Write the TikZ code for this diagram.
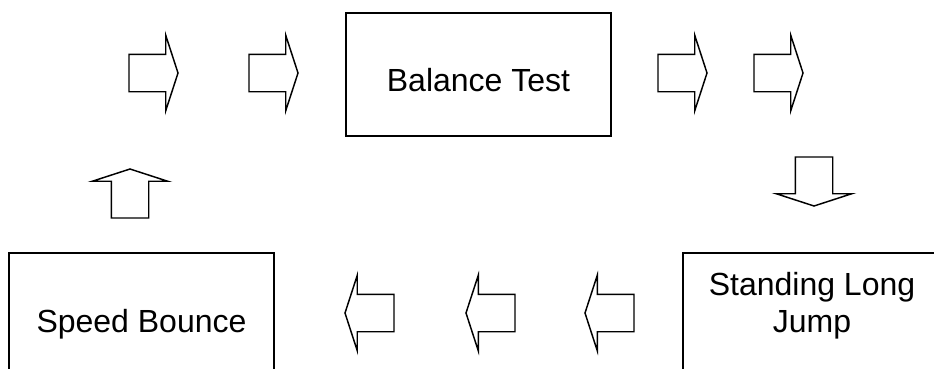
\documentclass[tikz,border=0pt]{standalone}
\usepackage{fontspec}
\setmainfont{Liberation Sans}
\usetikzlibrary{shapes.arrows}

\begin{document}
\begin{tikzpicture}[x=0.75pt, y=-0.75pt,
    stagebox/.style={draw, line width=1.5pt, inner sep=0pt, outer sep=0pt, anchor=north west},
    stagetext/.style={font=\fontsize{24pt}{27.75pt}\selectfont, inner sep=0pt, anchor=base},
    blockarrow/.style={draw, single arrow, line width=1.1pt, inner xsep=0pt, inner ysep=13.5pt, outer sep=0pt,
        minimum height=36.75pt, minimum width=55.5pt, single arrow head extend=14.25pt,
        single arrow tip angle=144, anchor=tip}]
        % Page frame
        \clip (0,0) rectangle (934,368);

        % Test stations
        \node[stagebox, minimum width=198.75pt, minimum height=92.25pt] (balance) at (346,13) {};
        \node[stagebox, minimum width=198.75pt, minimum height=100pt] (speed) at (9,253) {};
        \node[stagebox, minimum width=198.75pt, minimum height=100pt] (jump) at (683,253) {};

        \node[stagetext] (balancelabel) at (478.5,91) {Balance Test};
        \node[stagetext] (speedlabel) at (141.5,332) {Speed Bounce};
        \node[stagetext, align=center, anchor=north] (jumplabel) at (812,272) {Standing Long\\Jump};

        % Block arrows between stations
        \foreach \tx [count=\i] in {178,298,707,803} {
            \node[blockarrow] (right\i) at (\tx,73) {};
        }
        \node[blockarrow, rotate=-90] (down) at (814,206) {};
        \foreach \tx [count=\i] in {585,466,345} {
            \node[blockarrow, rotate=180] (left\i) at (\tx,313) {};
        }
        \node[blockarrow, rotate=90] (up) at (130,169) {};

    \end{tikzpicture}
\end{document}
